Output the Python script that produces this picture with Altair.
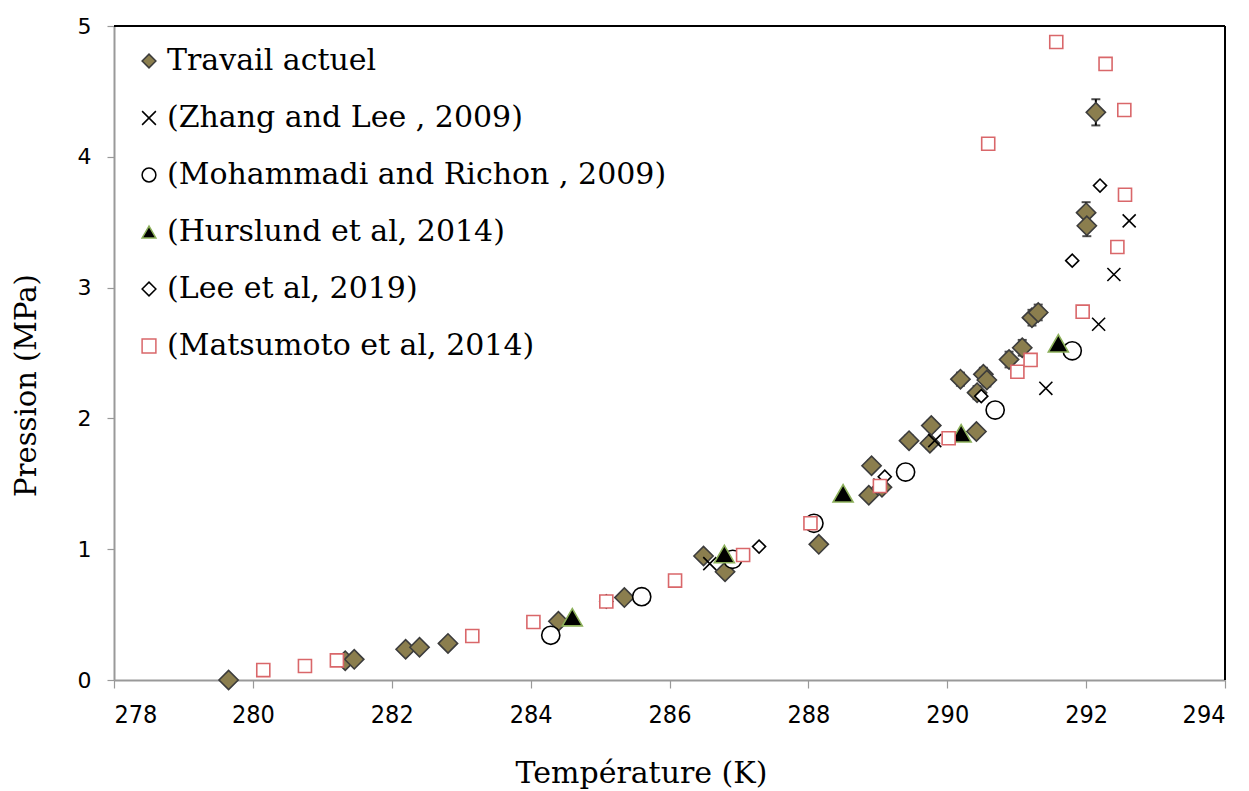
import altair as alt
import pandas as pd

# ---------------- data ----------------
series_names = [
    "Travail actuel",
    "(Zhang and Lee , 2009)",
    "(Mohammadi and Richon , 2009)",
    "(Hurslund et al, 2014)",
    "(Lee et al, 2019)",
    "(Matsumoto et al, 2014)",
]

travail_T = [279.65, 281.33, 281.46, 282.20, 282.40, 282.81, 284.40, 285.35, 286.49, 286.80,
             288.15, 288.87, 289.06, 288.91, 289.45, 289.77, 289.75, 290.42, 290.19, 290.52,
             290.57, 290.43, 290.89, 291.08, 291.22, 291.31, 292.00, 292.01, 292.14]
travail_P = [0.00, 0.148, 0.158, 0.235, 0.25, 0.28, 0.449, 0.63, 0.948, 0.828,
             1.037, 1.412, 1.473, 1.638, 1.83, 1.945, 1.81, 1.90, 2.30, 2.337,
             2.294, 2.197, 2.45, 2.54, 2.77, 2.81, 3.573, 3.473, 4.34]
travail_err = [0.00, 0.00, 0.00, 0.01, 0.01, 0.01, 0.01, 0.01, 0.02, 0.02,
               0.02, 0.03, 0.03, 0.04, 0.04, 0.04, 0.04, 0.04, 0.05, 0.05,
               0.05, 0.05, 0.06, 0.06, 0.06, 0.06, 0.08, 0.08, 0.10]

zhang_T = [286.58, 289.03, 289.82, 291.42, 292.18, 292.40, 292.62]
zhang_P = [0.89, 1.49, 1.83, 2.23, 2.72, 3.10, 3.51]

mohammadi_T = [284.29, 285.60, 286.91, 288.08, 289.40, 290.69, 291.80]
mohammadi_P = [0.342, 0.637, 0.923, 1.198, 1.59, 2.064, 2.517]

hurslund_T = [284.60, 286.79, 288.50, 290.20, 291.60]
hurslund_P = [0.48, 0.963, 1.427, 1.886, 2.574]

lee_T = [285.09, 287.29, 289.10, 290.49, 291.80, 292.20]
lee_P = [0.60, 1.02, 1.554, 2.17, 3.206, 3.78]

matsumoto_T = [280.15, 280.75, 281.21, 283.16, 284.04, 285.09, 286.08, 287.06, 288.03, 289.03,
               290.02, 291.01, 291.20, 291.95, 292.45, 292.56, 290.59, 292.55, 292.28, 291.57]
matsumoto_P = [0.076, 0.107, 0.15, 0.336, 0.443, 0.60, 0.76, 0.956, 1.198, 1.483,
               1.848, 2.357, 2.447, 2.816, 3.31, 3.71, 4.10, 4.358, 4.71, 4.878]

x_ticks = [278, 280, 282, 284, 286, 288, 290, 292, 294]
y_ticks = [0, 1, 2, 3, 4, 5]

# ---------------- styles ----------------
cross_path = "M-1,-1L1,1M-1,1L1,-1"
fill_range = ["#8B7E4E", "white", "white", "black", "white", "white"]
stroke_range = ["#3C3C3C", "black", "black", "#8CB05A", "black", "#D9676A"]
shape_range = ["diamond", cross_path, "circle", "triangle-up", "diamond", "square"]
marker_size = {series_names[0]: 370, series_names[1]: 170, series_names[2]: 330,
               series_names[3]: 400, series_names[4]: 170, series_names[5]: 170}

# ---------------- build tables ----------------
rows = []
for name, Ts, Ps in [
    (series_names[0], travail_T, travail_P),
    (series_names[1], zhang_T, zhang_P),
    (series_names[2], mohammadi_T, mohammadi_P),
    (series_names[3], hurslund_T, hurslund_P),
    (series_names[4], lee_T, lee_P),
    (series_names[5], matsumoto_T, matsumoto_P),
]:
    for t, p in zip(Ts, Ps):
        rows.append({"series": name, "T": t, "P": p,
                     "order": series_names.index(name), "sz": marker_size[name]})
df = pd.DataFrame(rows)

err = pd.DataFrame({"T": travail_T, "P": travail_P, "e": travail_err})
err = err[err["e"] > 0].copy()
err["lo"] = err["P"] - err["e"]
err["hi"] = err["P"] + err["e"]

W, H = 1111, 654

xscale = alt.Scale(domain=[278, 294], nice=False, zero=False)
yscale = alt.Scale(domain=[0, 5], nice=False, zero=True)

x_enc = alt.X("T:Q", scale=xscale,
              axis=alt.Axis(values=x_ticks, format="d", title="Température (K)",
                            titleX=527, titleY=102, titleBaseline="alphabetic",
                            titleFont="DejaVu Serif", titleFontSize=30, titleFontWeight="normal",
                            titleColor="black",
                            labelFont="'DejaVu Sans Condensed', 'Liberation Sans Narrow', sans-serif",
                            labelFontSize=25, labelColor="black",
                            labelPadding=14,
                            tickSize=8, tickColor="#999999", tickWidth=1.2,
                            domainColor="#999999", domainWidth=2, grid=False))
y_enc = alt.Y("P:Q", scale=yscale,
              axis=alt.Axis(values=y_ticks, format="d", title="Pression (MPa)",
                            titleX=-88, titleY=359, titleAngle=-90, titleBaseline="middle",
                            titleAlign="center",
                            titleFont="DejaVu Serif", titleFontSize=29, titleFontWeight="normal",
                            titleColor="black",
                            labelFont="DejaVu Sans", labelFontSize=22, labelColor="black",
                            labelPadding=16,
                            tickSize=7, tickColor="#999999", tickWidth=1.2,
                            domainColor="#999999", domainWidth=2, grid=False))

legend = alt.Legend(title=None, orient="top-left", offset=0,
                    labelFont="DejaVu Serif", labelFontSize=30, labelColor="black",
                    labelLimit=800, symbolSize=190, symbolStrokeWidth=1.5,
                    rowPadding=27, padding=20, labelOffset=3)

points = alt.Chart(df).mark_point(filled=False, opacity=1, strokeWidth=1.6).encode(
    x=x_enc,
    y=y_enc,
    color=alt.Color("series:N", scale=alt.Scale(domain=series_names, range=stroke_range),
                    legend=legend),
    fill=alt.Fill("series:N", scale=alt.Scale(domain=series_names, range=fill_range),
                  legend=legend),
    shape=alt.Shape("series:N", scale=alt.Scale(domain=series_names, range=shape_range),
                    legend=legend),
    size=alt.Size("sz:Q", scale=None),
    order=alt.Order("order:Q"),
)

err_rule = alt.Chart(err).mark_rule(color="black", strokeWidth=2).encode(
    x=alt.X("T:Q", scale=xscale), y=alt.Y("lo:Q", scale=yscale), y2="hi:Q")
cap_lo = alt.Chart(err).mark_tick(color="black", orient="horizontal", size=9, thickness=2).encode(
    x=alt.X("T:Q", scale=xscale), y=alt.Y("lo:Q", scale=yscale))
cap_hi = alt.Chart(err).mark_tick(color="black", orient="horizontal", size=9, thickness=2).encode(
    x=alt.X("T:Q", scale=xscale), y=alt.Y("hi:Q", scale=yscale))

top_line = alt.Chart(df).mark_rule(color="black", strokeWidth=2).encode(
    x=alt.value(0), x2=alt.value(W), y=alt.value(0))
right_line = alt.Chart(df).mark_rule(color="black", strokeWidth=2).encode(
    x=alt.value(W), y=alt.value(0), y2=alt.value(H))

chart = alt.layer(err_rule, cap_lo, cap_hi, points, top_line, right_line).properties(
    width=W, height=H,
    autosize=alt.AutoSizeParams(type="none"),
    padding={"left": 106, "top": 18, "right": 16, "bottom": 110},
).configure_view(stroke=None).configure(background="white")

chart.save("out.html", embed_options={"renderer": "svg", "actions": False})
